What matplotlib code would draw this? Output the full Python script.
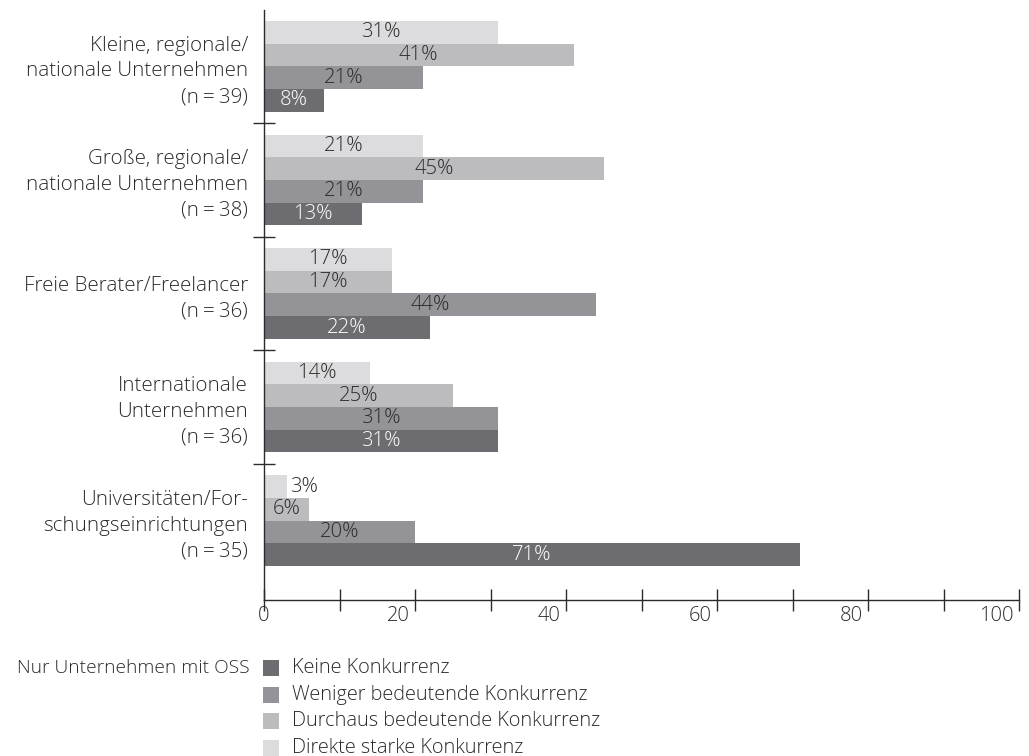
import matplotlib
matplotlib.use("Agg")
import matplotlib.pyplot as plt
from matplotlib.patches import Rectangle
import numpy as np

plt.rcParams['font.family'] = ['Open Sans', 'DejaVu Sans']
plt.rcParams['font.weight'] = 'light'

categories = [
    "Kleine, regionale/\nnationale Unternehmen\n(n\u2009=\u200939)",
    "Große, regionale/\nnationale Unternehmen\n(n\u2009=\u200938)",
    "Freie Berater/Freelancer\n(n\u2009=\u200936)",
    "Internationale\nUnternehmen\n(n\u2009=\u200936)",
    "Universitäten/For-\nschungseinrichtungen\n(n\u2009=\u200935)",
]
series_names = ["Keine Konkurrenz", "Weniger bedeutende Konkurrenz",
                "Durchaus bedeutende Konkurrenz", "Direkte starke Konkurrenz"]
keine = [8, 13, 22, 31, 71]
weniger = [21, 21, 44, 31, 20]
durchaus = [41, 45, 17, 25, 6]
direkte = [31, 21, 17, 14, 3]
series = [keine, weniger, durchaus, direkte]
colors = ["#6d6d71", "#949498", "#bcbcbf", "#dcdcde"]
label_colors = ["white", "#2b2b2b", "#2b2b2b", "#2b2b2b"]
x_ticks = [0, 20, 40, 60, 80, 100]
legend_title = "Nur Unternehmen mit OSS"

TXT = "#2b2b2b"
W, H = 1029, 756
fig = plt.figure(figsize=(W / 100, H / 100), dpi=100)
ax = fig.add_axes([264 / W, 1 - 600 / H, (1019 - 264) / W, (600 - 10) / H])

n_cat = len(categories)
n_ser = len(series)
pitch = n_ser + 1
px = 72 / 100  # points per pixel

for s_idx, vals in enumerate(series):
    ys = [pitch * i + (n_ser - 1 - s_idx) + 0.5 for i in range(n_cat)]
    ax.barh(ys, vals, height=1.0, color=colors[s_idx], linewidth=0)
    for y, v in zip(ys, vals):
        if v < 5:
            ax.annotate(f"{v}%", xy=(v, y), xytext=(3 * px, 0), textcoords="offset points",
                        ha="left", va="center", fontsize=14.6, color=TXT)
        else:
            ax.text(v / 2, y, f"{v}%", ha="center", va="center", fontsize=14.6,
                    color=label_colors[s_idx])

ax.set_xlim(0, 100)
ax.set_ylim(pitch * n_cat - 1 + 34 / 22.7, -11 / 22.7)

for sp in ["top", "right"]:
    ax.spines[sp].set_visible(False)
for sp in ["left", "bottom"]:
    ax.spines[sp].set_linewidth(1.0)
    ax.spines[sp].set_color(TXT)

ax.set_xticks(list(range(0, 101, 10)))
ax.set_xticklabels([])
ax.tick_params(axis="x", direction="inout", length=22 * px, width=1.0, color=TXT)
ax.set_yticks([pitch * i - 0.5 for i in range(1, n_cat)])
ax.set_yticklabels([])
ax.tick_params(axis="y", direction="inout", length=23 * px, width=1.0, color=TXT)

for t in x_ticks:
    if t == 0:
        ax.annotate(str(t), xy=(t, 0), xycoords=("data", "axes fraction"),
                    xytext=(0, -16 * px), textcoords="offset points",
                    ha="center", va="center", fontsize=14.5, color=TXT)
    else:
        ax.annotate(str(t), xy=(t, 0), xycoords=("data", "axes fraction"),
                    xytext=(-5 * px, -16 * px), textcoords="offset points",
                    ha="right", va="center", fontsize=14.5, color=TXT)

for i, cat in enumerate(categories):
    ax.annotate(cat, xy=(0, pitch * i + (n_ser - 1) / 2 + 0.5), xycoords=("axes fraction", "data"),
                xytext=(-16 * px, -5 * px), textcoords="offset points",
                ha="right", va="center", fontsize=14.8, color=TXT, linespacing=1.38)

# legend
fig.text(250 / W, 1 - 668 / H, legend_title, ha="right", va="center", fontsize=13.8, color=TXT)
row_centers = [668, 695, 721, 748]
for name, col, yc in zip(series_names, colors, row_centers):
    fig.patches.append(Rectangle((263 / W, 1 - (yc + 8) / H), 16 / W, 16 / H,
                                 transform=fig.transFigure, facecolor=col, edgecolor="none"))
    fig.text(292 / W, 1 - yc / H, name, ha="left", va="center", fontsize=14.3, color=TXT)

fig.savefig("out.png", dpi=100)
